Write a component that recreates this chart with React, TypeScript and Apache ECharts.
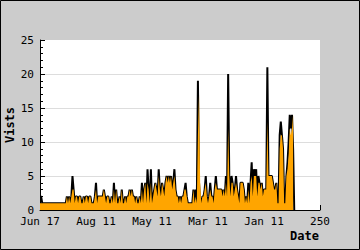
import React, { useEffect, useRef } from "react";
import * as echarts from "echarts";

const tickLabels = ["Jun 17", "Aug 11", "May 11", "Mar 11", "Jan 11", "250"];

const totalVisits = [
  2, 2, 1, 1, 1, 1, 1, 1, 1, 1,
  1, 1, 1, 1, 1, 1, 1, 1, 1, 1,
  1, 1, 1, 1, 2, 1, 2, 1, 2, 5,
  3, 1, 2, 2, 1, 2, 2, 1, 1, 2,
  1, 2, 2, 1, 2, 2, 1, 1, 1, 2,
  4, 1, 2, 2, 2, 2, 2, 3, 2, 1,
  2, 2, 1, 1, 2, 1, 4, 1, 3, 1,
  1, 2, 1, 3, 1, 1, 2, 1, 2, 2,
  3, 2, 3, 2, 2, 1, 2, 1, 1, 2,
  1, 4, 1, 3, 4, 1, 6, 3, 1, 6,
  1, 2, 3, 4, 3, 2, 6, 3, 2, 4,
  3, 2, 4, 5, 4, 5, 4, 5, 3, 4,
  6, 3, 2, 2, 1, 2, 1, 2, 2, 3,
  4, 2, 1, 1, 1, 1, 1, 3, 1, 3,
  1, 19, 4, 1, 1, 2, 2, 3, 5, 2,
  1, 2, 4, 2, 2, 1, 3, 5, 3, 3,
  3, 3, 3, 2, 3, 2, 5, 2, 20, 5,
  2, 5, 4, 2, 3, 5, 3, 2, 1, 4,
  4, 4, 3, 1, 2, 1, 4, 1, 4, 7,
  2, 6, 5, 6, 2, 5, 4, 3, 4, 2,
  3, 3, 3, 21, 5, 5, 5, 5, 4, 3,
  3, 4, 1, 1, 11, 13, 11, 9, 1, 1,
  5, 7, 10, 14, 12, 14, 9, 0,
];

const uniqueVisits = [
  1, 1, 1, 1, 1, 1, 1, 1, 1, 1,
  1, 1, 1, 1, 1, 1, 1, 1, 1, 1,
  1, 1, 1, 1, 2, 1, 2, 1, 2, 3,
  3, 1, 2, 2, 1, 2, 2, 1, 1, 2,
  1, 2, 2, 1, 2, 2, 1, 1, 1, 2,
  3, 1, 2, 2, 2, 2, 2, 3, 2, 1,
  2, 2, 1, 1, 2, 1, 3, 1, 3, 1,
  1, 2, 1, 3, 1, 1, 2, 1, 2, 2,
  3, 2, 3, 2, 2, 1, 2, 1, 1, 2,
  1, 3, 1, 3, 4, 1, 4, 3, 1, 4,
  1, 2, 3, 4, 3, 2, 5, 3, 2, 4,
  3, 2, 4, 5, 4, 5, 4, 5, 3, 4,
  5, 3, 2, 2, 1, 2, 1, 2, 2, 3,
  3, 2, 1, 1, 1, 1, 1, 3, 1, 2,
  1, 11, 17, 4, 1, 2, 2, 3, 4, 2,
  1, 2, 3, 2, 2, 1, 3, 4, 3, 3,
  3, 3, 3, 2, 3, 2, 4, 2, 12, 5,
  2, 4, 4, 2, 3, 4, 3, 2, 1, 4,
  4, 4, 3, 1, 2, 1, 3, 1, 4, 5,
  2, 5, 5, 5, 2, 4, 4, 3, 4, 2,
  3, 3, 3, 13, 5, 5, 5, 5, 4, 3,
  3, 4, 1, 1, 9, 11, 11, 9, 1, 1,
  5, 6, 8, 12, 11, 12, 14,
];

const FONT = "'DejaVu Sans Mono', monospace";

export default function App() {
  const ref = useRef<HTMLDivElement>(null);
  useEffect(() => {
    if (!ref.current) return;
    const chart = echarts.init(ref.current, undefined, { renderer: "svg" });
    chart.setOption({
      animation: false,
      backgroundColor: "#cccccc",
      grid: {
        left: 40,
        top: 40,
        width: 280,
        height: 170,
        show: true,
        backgroundColor: "#ffffff",
        borderWidth: 0,
      },
      xAxis: {
        type: "value",
        min: 0,
        max: 250,
        interval: 50,
        axisLine: { show: true, lineStyle: { color: "#000", width: 1 } },
        axisTick: { show: true, inside: true, length: 5, lineStyle: { color: "#000" } },
        splitLine: { show: false },
        axisLabel: {
          color: "#000",
          fontFamily: FONT,
          fontSize: 11,
          margin: 6,
          formatter: (v: number) => tickLabels[Math.round(v / 50)] ?? String(v),
        },
      },
      yAxis: {
        type: "value",
        min: 0,
        max: 25,
        interval: 5,
        axisLine: { show: true, lineStyle: { color: "#000", width: 1 } },
        axisTick: { show: true, inside: true, length: 5, lineStyle: { color: "#000" } },
        minorTick: { show: true, splitNumber: 5, length: 3, lineStyle: { color: "#000" } },
        splitLine: {
          show: true,
          lineStyle: {
            color: ["transparent", "#dddddd", "#dddddd", "#dddddd", "#dddddd", "transparent"],
            width: 1,
          },
        },
        axisLabel: { color: "#000", fontFamily: FONT, fontSize: 11, margin: 6 },
      },
      series: [
        {
          type: "line",
          data: totalVisits.map((v, i) => [i, v]),
          symbol: "none",
          lineStyle: { color: "#000000", width: 2 },
          z: 2,
        },
        {
          type: "line",
          data: uniqueVisits.map((v, i) => [i, v]),
          symbol: "none",
          lineStyle: { width: 0, color: "#ffa500" },
          areaStyle: { color: "#ffa500", opacity: 1 },
          z: 3,
        },
      ],
      graphic: [
        {
          type: "text",
          x: 10,
          y: 125,
          rotation: Math.PI / 2,
          style: {
            text: "Vists",
            font: `bold 12px ${FONT}`,
            fill: "#000",
            align: "center",
            verticalAlign: "middle",
          },
        },
        {
          type: "text",
          x: 319,
          y: 236,
          style: {
            text: "Date",
            font: `bold 12px ${FONT}`,
            fill: "#000",
            align: "right",
            verticalAlign: "middle",
          },
        },
        {
          type: "rect",
          shape: { x: 0.5, y: 0.5, width: 359, height: 249 },
          style: { fill: "none", stroke: "#000", lineWidth: 1 },
          silent: true,
        },
      ],
    });
    return () => chart.dispose();
  }, []);
  return (
    <div
      ref={ref}
      style={{ position: "absolute", left: 0, top: 0, width: 360, height: 250 }}
    />
  );
}
